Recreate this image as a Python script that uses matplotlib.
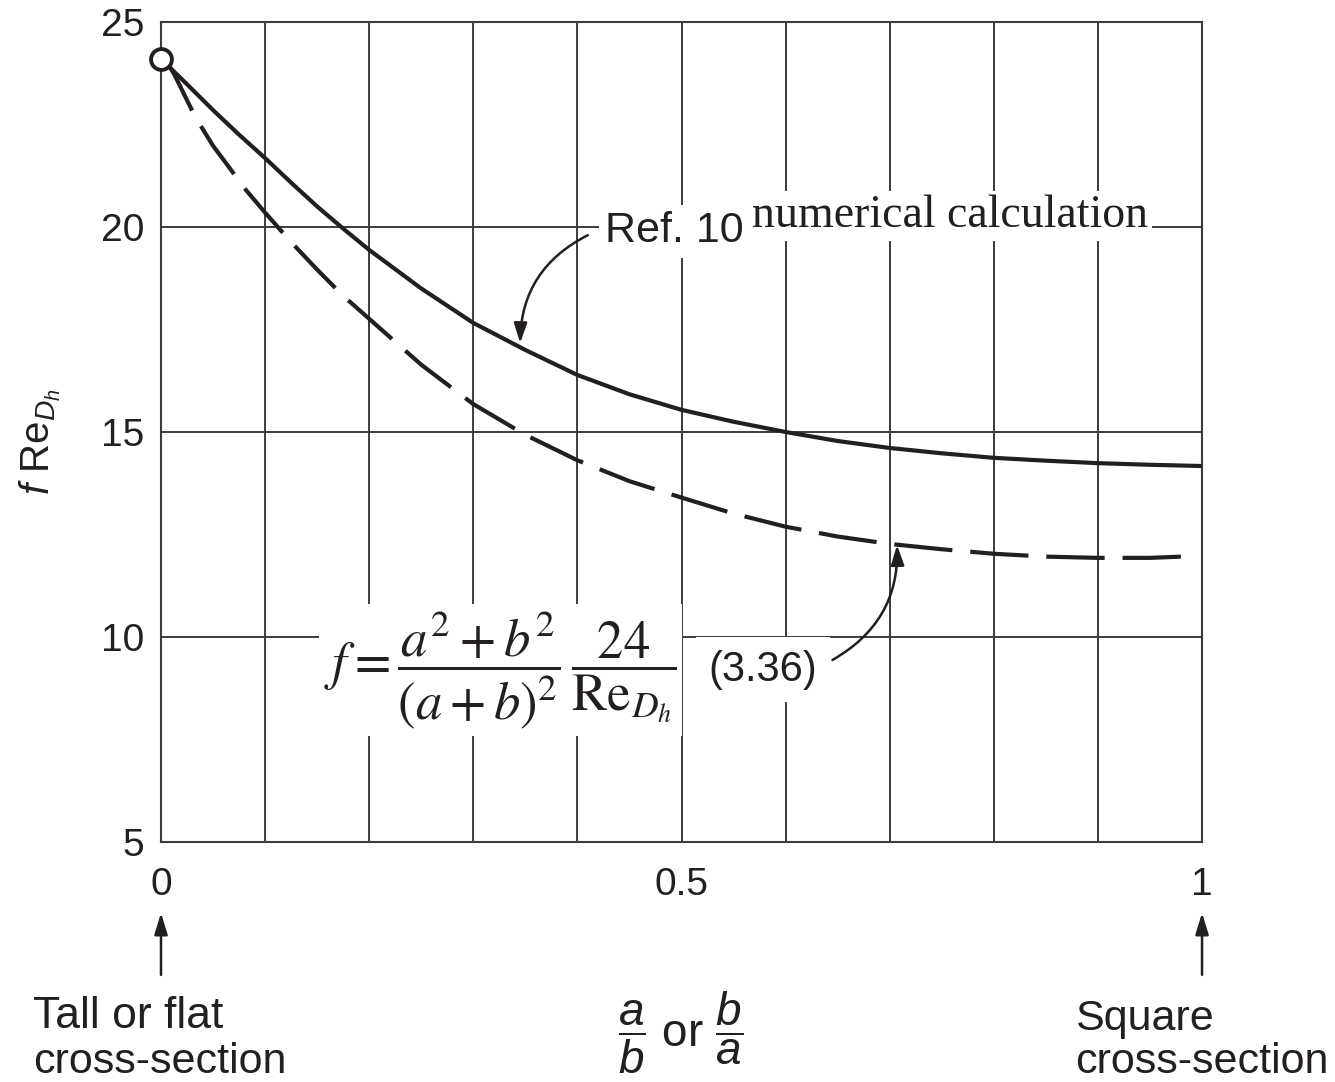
import matplotlib
matplotlib.use('Agg')
import matplotlib.pyplot as plt

plt.rcParams['font.family'] = ['Liberation Sans', 'DejaVu Sans']
plt.rcParams['mathtext.fontset'] = 'custom'
plt.rcParams['mathtext.rm'] = 'Liberation Sans'
plt.rcParams['mathtext.it'] = 'Liberation Sans:italic'

INK = '#231f20'
GRID = '#3c3c3c'

# aspect ratio a/b (or b/a) and f*Re_Dh
ratio_num = [0.0, 0.025, 0.05, 0.075, 0.1, 0.125, 0.15, 0.175, 0.2, 0.25, 0.3, 0.35, 0.4,
             0.45, 0.5, 0.55, 0.6, 0.65, 0.7, 0.75, 0.8, 0.85, 0.9, 0.95, 1.0]
fre_num = [24.1, 23.48, 22.85, 22.25, 21.68, 21.08, 20.5, 19.96, 19.44, 18.5, 17.66, 17.0,
           16.39, 15.92, 15.54, 15.25, 15.0, 14.78, 14.61, 14.48, 14.37, 14.3, 14.24, 14.2, 14.17]

ratio_eq = [0.004, 0.013, 0.033, 0.05, 0.065, 0.08, 0.1, 0.125, 0.15, 0.175, 0.2, 0.25, 0.3,
            0.35, 0.4, 0.45, 0.5, 0.55, 0.6, 0.65, 0.7, 0.75, 0.8, 0.85, 0.9, 0.95, 0.99]
fre_eq = [24.1, 23.71, 22.68, 21.98, 21.47, 20.95, 20.35, 19.63, 18.96, 18.32, 17.76, 16.64,
          15.68, 14.93, 14.31, 13.8, 13.4, 13.01, 12.69, 12.45, 12.27, 12.14, 12.03, 11.96,
          11.93, 11.93, 11.97]

x_ticks = [0, 0.5, 1]
x_ticklabels = ['0', '0.5', '1']
y_ticks = [5, 10, 15, 20, 25]

fig = plt.figure(figsize=(13.35, 10.82), dpi=100)
ax = fig.add_axes([0.1206, 0.2218, 0.7798, 0.7579])

ax.set_xlim(0, 1)
ax.set_ylim(5, 25)
ax.set_xticks(x_ticks)
ax.set_xticklabels(x_ticklabels)
ax.set_xticks([i / 10 for i in range(11)], minor=True)
ax.set_yticks(y_ticks)
ax.tick_params(which='both', length=0, labelsize=28, colors=INK)
ax.tick_params(axis='x', pad=18)
ax.tick_params(axis='y', pad=12)
ax.grid(True, axis='x', which='both', color=GRID, lw=1.4)
ax.grid(True, axis='y', which='major', color=GRID, lw=1.4)
ax.set_axisbelow(True)
for sp in ax.spines.values():
    sp.set_color(GRID)
    sp.set_linewidth(1.5)

# curves
ax.plot(ratio_num, fre_num, color=INK, lw=3.0, solid_capstyle='round',
        solid_joinstyle='round', zorder=3)
ax.plot(ratio_eq, fre_eq, color=INK, lw=3.0, linestyle=(0, (14, 4.3)), zorder=3)
ax.plot([ratio_num[0]], [fre_num[0]], 'o', ms=15, mfc='white', mec=INK, mew=2.8,
        zorder=5, clip_on=False)

# labels inside the plot (white boxes break the grid)
box = dict(facecolor='white', edgecolor='none', boxstyle='square,pad=0.15')
ax.text(0.4265, 19.63, 'Ref. 10', fontsize=31, color=INK, va='baseline', ha='left',
        bbox=box, zorder=2)
ax.text(0.568, 20.0, 'numerical calculation', fontsize=33, color=INK, va='baseline',
        ha='left', family='Liberation Serif',
        bbox=dict(facecolor='white', edgecolor='none', boxstyle='square,pad=0.08'), zorder=2)
ax.text(0.326, 9.2, r'$f = \dfrac{a^2 + b^2}{(a + b)^2}\,\dfrac{24}{\mathrm{Re}_{D_h}}$',
        fontsize=38, color=INK, ha='center', va='center', math_fontfamily='stix',
        bbox=dict(facecolor='white', edgecolor='none', boxstyle='square,pad=0.1'), zorder=2)
ax.text(0.578, 9.2, '(3.36)', fontsize=30, color=INK, ha='center', va='center',
        bbox=dict(facecolor='white', edgecolor='none', boxstyle='square,pad=0.3'), zorder=2)

arrow = dict(arrowstyle='-|>,head_length=1.2,head_width=0.4', color=INK, lw=1.8,
             shrinkA=0, shrinkB=0)
ax.annotate('', xy=(0.345, 17.17), xytext=(0.41, 19.8),
            arrowprops=dict(arrow, connectionstyle='arc3,rad=0.3'), zorder=4)
ax.annotate('', xy=(0.707, 12.24), xytext=(0.645, 9.44),
            arrowprops=dict(arrow, connectionstyle='arc3,rad=0.3'), zorder=4)

# arrows under the axis pointing at the two limits
for xv in [0, 1]:
    ax.annotate('', xy=(xv, 3.27), xytext=(xv, 1.76), annotation_clip=False,
                arrowprops=dict(arrowstyle='-|>,head_length=1.3,head_width=0.4',
                                color=INK, lw=1.8, shrinkA=0, shrinkB=0))

H = 1082.0
W = 1335.0
fig.text(40 / W, 1 - 442 / H, r'$f$ Re$_{D_h}$', rotation=90, fontsize=29, color=INK,
         ha='center', va='center')
fig.text(33 / W, 1 - 1028 / H, 'Tall or flat', fontsize=32, color=INK, va='baseline')
fig.text(33 / W, 1 - 1073 / H, 'cross-section', fontsize=31, color=INK, va='baseline')
fig.text(1075 / W, 1 - 1030 / H, 'Square', fontsize=31, color=INK, va='baseline')
fig.text(1075 / W, 1 - 1073 / H, 'cross-section', fontsize=31, color=INK, va='baseline')
fig.text(681 / W, 1 - 1033 / H, r'$\dfrac{a}{b}$ or $\dfrac{b}{a}$', fontsize=33,
         color=INK, ha='center', va='center')

fig.savefig('out.png', dpi=100)
